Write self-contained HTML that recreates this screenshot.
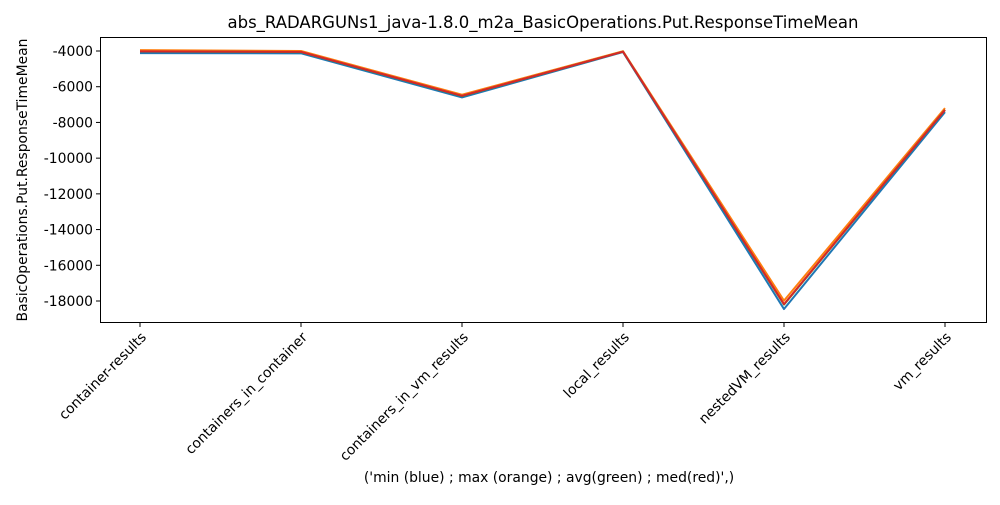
<!DOCTYPE html>
<html><head><meta charset="utf-8"><style>
body{margin:0;background:#fff;font-family:"Liberation Sans","DejaVu Sans",sans-serif}
svg text{font-family:"DejaVu Sans","Liberation Sans",sans-serif;font-size:13.9px;fill:#000}
</style></head><body>
<svg id="c" width="1000" height="500">
<rect width="1000" height="500" fill="#fff"/>
<text x="543" y="28" text-anchor="middle" style="font-size:16.5px">abs_RADARGUNs1_java-1.8.0_m2a_BasicOperations.Put.ResponseTimeMean</text>
<text transform="translate(27,180) rotate(-90)" text-anchor="middle">BasicOperations.Put.ResponseTimeMean</text>
<text x="549" y="482" text-anchor="middle">('min (blue) ; max (orange) ; avg(green) ; med(red)',)</text>
<g id="ticks"></g><g id="lines"></g>
<rect x="100.5" y="37.5" width="886" height="285" fill="none" stroke="#000" stroke-width="1"/>
</svg>
<script>
const categories=["container-results","containers_in_container","containers_in_vm_results","local_results","nestedVM_results","vm_results"];
const minVals=[-4120,-4130,-6600,-4060,-18450,-7420];
const maxVals=[-3950,-4000,-6450,-4010,-17980,-7200];
const avgVals=[-4030,-4060,-6520,-4040,-18200,-7300];
const medVals=[-4020,-4050,-6510,-4040,-18180,-7300];
const yTicks=[-4000,-6000,-8000,-10000,-12000,-14000,-16000,-18000];
const ns="http://www.w3.org/2000/svg";
const X=i=>140+i*161;
const Y=v=>51+(-4000-v)*250/14000;
const tg=document.getElementById('ticks'),lg=document.getElementById('lines');
function mk(t,a,p){const e=document.createElementNS(ns,t);for(const k in a)e.setAttribute(k,a[k]);p.appendChild(e);return e;}
yTicks.forEach(v=>{
 const l=mk('line',{x1:96,x2:100.5,y1:Y(v),y2:Y(v),stroke:'#000'},tg);
 
 
 const t=mk('text',{x:93,y:Y(v)+5,'text-anchor':'end'},tg);t.textContent=v;
 
 
});
categories.forEach((c,i)=>{
 const l=mk('line',{x1:X(i),x2:X(i),y1:322.5,y2:327,stroke:'#000'},tg);
 
 
 const ax=X(i)+7,ay=338;
 const t=mk('text',{x:ax,y:ay,'text-anchor':'end',transform:`rotate(-45 ${ax} ${ay})`},tg);t.textContent=c;
 
 
});
[[minVals,'#1f77b4','min-line'],[maxVals,'#ff7f0e','max-line'],[avgVals,'#2ca02c','avg-line'],[medVals,'#d62728','med-line']].forEach(([d,col,n])=>{
 const p=mk('polyline',{points:d.map((v,i)=>X(i)+','+Y(v)).join(' '),fill:'none',stroke:col,'stroke-width':2,'stroke-linejoin':'round'},lg);
 
 
});
</script>
</body></html>
